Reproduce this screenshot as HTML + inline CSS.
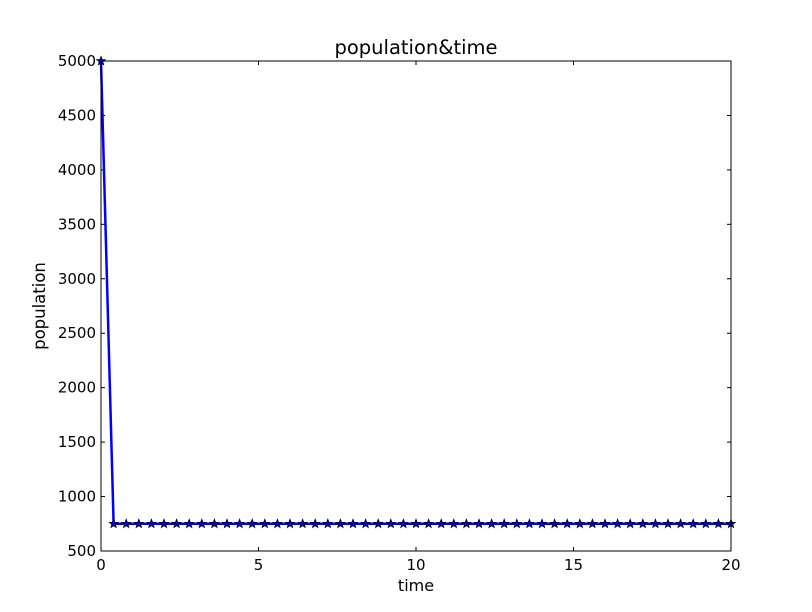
<!DOCTYPE html>
<html><head><meta charset="utf-8"><style>
body{margin:0;background:#fff;}
svg{display:block;font-family:"DejaVu Sans","Liberation Sans",sans-serif;}
</style></head><body>
<svg id="chart" width="812" height="612">
<rect x="0" y="0" width="812" height="612" fill="#fff"/>
<text x="416" y="54" font-size="19.5" text-anchor="middle">population&amp;time</text>
<text x="416" y="591" font-size="16" text-anchor="middle">time</text>
<text x="45" y="306" font-size="16.5" text-anchor="middle" transform="rotate(-90 45 306)">population</text>
<g id="ticks"></g>
<g id="series"></g>
<rect x="101" y="61" width="630" height="490" fill="none" stroke="#000" stroke-width="1"/>
</svg>
<script>
const xTicks=[0,5,10,15,20];
const yTicks=[500,1000,1500,2000,2500,3000,3500,4000,4500,5000];
const times=[0,0.4,0.8,1.2,1.6,2,2.4,2.8,3.2,3.6,4,4.4,4.8,5.2,5.6,6,6.4,6.8,7.2,7.6,8,8.4,8.8,9.2,9.6,10,10.4,10.8,11.2,11.6,12,12.4,12.8,13.2,13.6,14,14.4,14.8,15.2,15.6,16,16.4,16.8,17.2,17.6,18,18.4,18.8,19.2,19.6,20];
const population=[5000,750,750,750,750,750,750,750,750,750,750,750,750,750,750,750,750,750,750,750,750,750,750,750,750,750,750,750,750,750,750,750,750,750,750,750,750,750,750,750,750,750,750,750,750,750,750,750,750,750,750];
const NS="http://www.w3.org/2000/svg";
const X=v=>101+(v-0)/20*630;
const Y=v=>551-(v-500)/4500*490;
const tg=document.getElementById('ticks');
function mk(tag,attrs,parent){const e=document.createElementNS(NS,tag);for(const k in attrs)e.setAttribute(k,attrs[k]);parent.appendChild(e);return e;}
xTicks.forEach(t=>{
  const x=X(t);
  const l1=mk('line',{x1:x,x2:x,y1:551,y2:547,stroke:'#000'},tg);
  
  
  const l2=mk('line',{x1:x,x2:x,y1:61,y2:65,stroke:'#000'},tg);
  
  
  const tx=mk('text',{x:x,y:570,'font-size':15,'text-anchor':'middle'},tg);
  tx.textContent=t;
  
  
});
yTicks.forEach(t=>{
  const y=Y(t);
  const l1=mk('line',{x1:101,x2:105,y1:y,y2:y,stroke:'#000'},tg);
  
  
  const l2=mk('line',{x1:727,x2:731,y1:y,y2:y,stroke:'#000'},tg);
  
  
  const tx=mk('text',{x:96,y:y+5,'font-size':15,'text-anchor':'end'},tg);
  tx.textContent=t;
  
  
});
const sg=document.getElementById('series');
const pts=times.map((t,i)=>X(t)+','+Y(population[i])).join(' ');
const pl=mk('polyline',{points:pts,fill:'none',stroke:'#0000ff','stroke-width':2.5},sg);


function star(cx,cy,r){let p=[];for(let i=0;i<10;i++){const a=-Math.PI/2+i*Math.PI/5;const rr=i%2?r*0.42:r;p.push((cx+rr*Math.cos(a)).toFixed(2)+','+(cy+rr*Math.sin(a)).toFixed(2));}return p.join(' ');}
times.forEach((t,i)=>{
  const s=mk('polygon',{points:star(X(t),Y(population[i]),4.5),fill:'#0000ff',stroke:'#000','stroke-width':0.8},sg);
  
  
});
</script>
</body></html>
